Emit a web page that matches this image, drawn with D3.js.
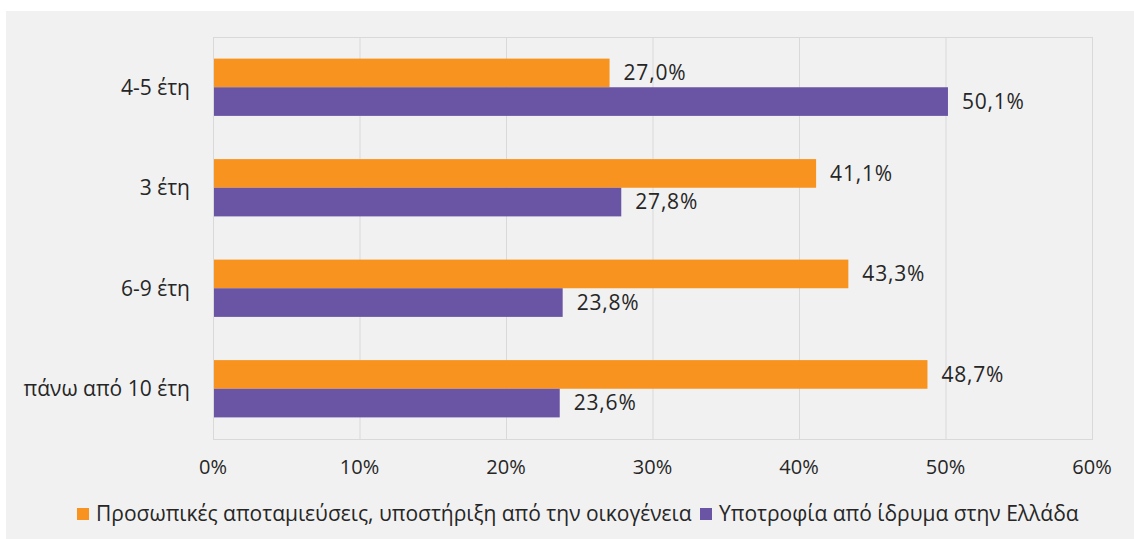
<!DOCTYPE html>
<html>
<head>
<meta charset="utf-8">
<script src="https://cdn.jsdelivr.net/npm/d3@7"></script>
<style>
    html, body { margin: 0; padding: 0; background: #ffffff; }
    svg { display: block; }
    text { font-family: "Open Sans", "Noto Sans", sans-serif; }
</style>
</head>
<body>
<svg id="chart" width="1134" height="539"></svg>
<script>
// chart data
var categories = ["4-5 έτη", "3 έτη", "6-9 έτη", "πάνω από 10 έτη"];
var seriesNames = ["Προσωπικές αποταμιεύσεις, υποστήριξη από την οικογένεια", "Υποτροφία από ίδρυμα στην Ελλάδα"];
var savingsValues = [27.0, 41.1, 43.3, 48.7];
var scholarshipValues = [50.1, 27.8, 23.8, 23.6];
var tickValues = [0, 10, 20, 30, 40, 50, 60];
var seriesColors = ["#F7931E", "#6A55A5"];

var svg = d3.select("#chart");
var width = 1134, height = 539;
var plotLeft = 213, plotRight = 1092, plotTop = 37, plotBottom = 439;

var greek = d3.formatLocale({decimal: ",", thousands: ".", grouping: [3], currency: ["", "€"]});
var fmt = greek.format(".1f");

// background panel
svg.append("rect")
    .attr("x", 6).attr("y", 11)
    .attr("width", width - 6).attr("height", height - 11)
    .attr("fill", "#f1f1f1");

var x = d3.scaleLinear().domain([0, 60]).range([plotLeft, plotRight]);
var y = d3.scaleBand().domain(categories).range([plotTop, plotBottom])
    .paddingInner(0.43).paddingOuter(0.215);
var ySub = d3.scaleBand().domain([0, 1]).range([0, y.bandwidth()]);

// gridlines
svg.append("g")
    .selectAll("line")
    .data(tickValues)
    .enter().append("line")
    .attr("x1", function(d) { return x(d) + 0.5; })
    .attr("x2", function(d) { return x(d) + 0.5; })
    .attr("y1", plotTop).attr("y2", plotBottom)
    .attr("stroke", "#d9d9d9")
    .attr("stroke-width", 1);

// plot border
svg.append("rect")
    .attr("x", plotLeft + 0.5).attr("y", plotTop + 0.5)
    .attr("width", plotRight - plotLeft).attr("height", plotBottom - plotTop)
    .attr("fill", "none")
    .attr("stroke", "#d9d9d9");

var rows = categories.map(function(c, i) {
    return {cat: c, values: [savingsValues[i], scholarshipValues[i]]};
});

var groups = svg.append("g")
    .selectAll("g")
    .data(rows)
    .enter().append("g")
    .attr("transform", function(d) { return "translate(0," + y(d.cat) + ")"; });

groups.selectAll("rect")
    .data(function(d) { return d.values; })
    .enter().append("rect")
    .attr("x", x(0) + 1)
    .attr("y", function(d, i) { return ySub(i); })
    .attr("width", function(d) { return x(d) - x(0); })
    .attr("height", ySub.bandwidth())
    .attr("fill", function(d, i) { return seriesColors[i]; });

groups.selectAll("text")
    .data(function(d) { return d.values; })
    .enter().append("text")
    .attr("x", function(d) { return x(d) + 15; })
    .attr("y", function(d, i) { return ySub(i) + ySub.bandwidth() / 2; })
    .attr("dy", "0.35em")
    .attr("font-size", 21)
    .attr("letter-spacing", 0.8)
    .attr("fill", "#262626")
    .text(function(d) { return fmt(d) + "%"; });

// category labels
svg.append("g")
    .selectAll("text")
    .data(categories)
    .enter().append("text")
    .attr("x", plotLeft - 23)
    .attr("y", function(d) { return y(d) + y.bandwidth() / 2; })
    .attr("dy", "0.35em")
    .attr("text-anchor", "end")
    .attr("font-size", 21)
    .attr("fill", "#262626")
    .text(function(d) { return d; });

// x tick labels
svg.append("g")
    .selectAll("text")
    .data(tickValues)
    .enter().append("text")
    .attr("x", function(d) { return x(d); })
    .attr("y", 467)
    .attr("dy", "0.35em")
    .attr("text-anchor", "middle")
    .attr("font-size", 20)
    .attr("fill", "#262626")
    .text(function(d) { return d + "%"; });

// legend
var legendX = [77, 700];
var legend = svg.append("g")
    .selectAll("g")
    .data(seriesNames)
    .enter().append("g")
    .attr("transform", function(d, i) { return "translate(" + legendX[i] + ",514)"; });

legend.append("rect")
    .attr("x", 0).attr("y", -6)
    .attr("width", 12).attr("height", 12)
    .attr("fill", function(d, i) { return seriesColors[i]; });

legend.append("text")
    .attr("x", 19)
    .attr("y", 0)
    .attr("dy", "0.35em")
    .attr("font-size", 21)
    .attr("fill", "#262626")
    .text(function(d) { return d; });
</script>
</body>
</html>
